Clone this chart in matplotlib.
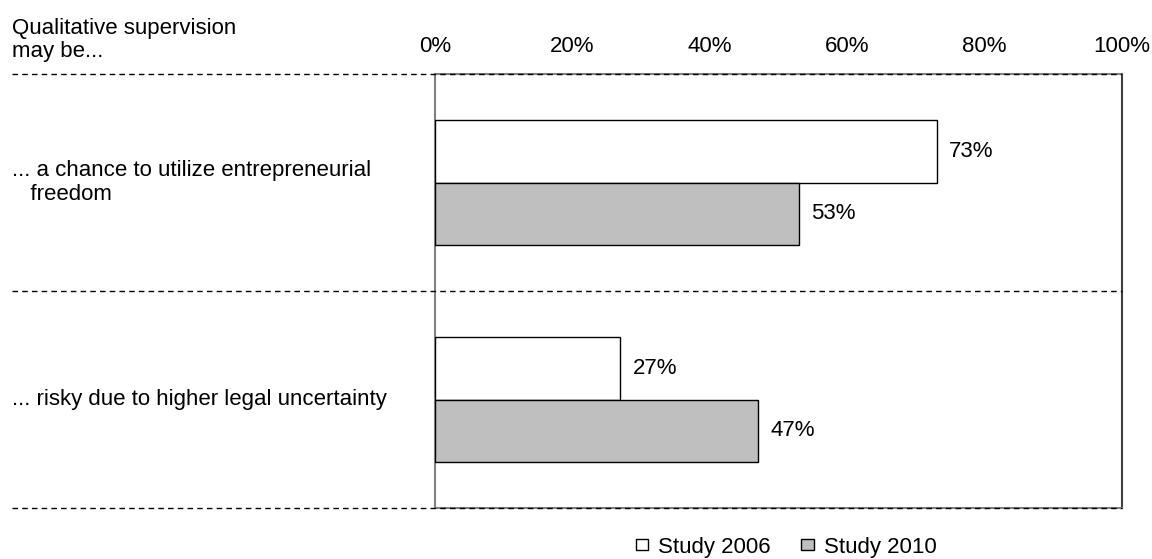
import numpy as np
import matplotlib.pyplot as plt
from matplotlib.lines import Line2D
from matplotlib.patches import Patch

plt.rcParams['font.family'] = ['Liberation Sans', 'DejaVu Sans']

# Survey shares per statement
categories = ['... a chance to utilize entrepreneurial\n   freedom',
              '... risky due to higher legal uncertainty']
study_2006 = [73, 27]
study_2010 = [53, 47]
ticks = [0, 20, 40, 60, 80, 100]

FS = 16

fig = plt.figure(figsize=(11.52, 5.59), dpi=100)
ax = fig.add_axes([0.3776, 0.0912, 0.5964, 0.7764])

centers = np.arange(len(categories)) + 0.5
h = 0.286
ax.barh(centers - h / 2, study_2006, height=h, color='white',
        edgecolor='black', linewidth=1, zorder=3)
ax.barh(centers + h / 2, study_2010, height=h, color='#BFBFBF',
        edgecolor='black', linewidth=1, zorder=3)

for y, v in zip(centers - h / 2, study_2006):
    ax.text(v + 1.8, y, f'{v}%', va='center', ha='left', fontsize=FS)
for y, v in zip(centers + h / 2, study_2010):
    ax.text(v + 1.8, y, f'{v}%', va='center', ha='left', fontsize=FS)

ax.set_xlim(0, 100)
ax.set_ylim(2, 0)
ax.xaxis.tick_top()
ax.set_xticks(ticks)
ax.set_xticklabels([f'{t}%' for t in ticks], fontsize=FS)
ax.tick_params(axis='x', length=0, pad=12)
ax.set_yticks([])

for side in ['left', 'top', 'right', 'bottom']:
    ax.spines[side].set_color('#808080')
    ax.spines[side].set_linewidth(1.5)
ax.spines['right'].set_color('#404040')

# dashed separators running across the label column
for y in [0, 1, 2]:
    ax.add_line(Line2D([-0.616, 1.0], [1 - y / 2, 1 - y / 2],
                       transform=ax.transAxes, color='black',
                       linestyle=(0, (4, 3)), linewidth=1,
                       clip_on=False, zorder=4))

for c, label in zip(centers, categories):
    ax.text(-0.616, c, label, transform=ax.get_yaxis_transform(),
            ha='left', va='center', fontsize=FS, linespacing=1.2)

fig.text(12 / 1152, 1 - 40 / 559, 'Qualitative supervision\nmay be...',
         ha='left', va='center', fontsize=FS, linespacing=1.1)

handles = [Patch(facecolor='white', edgecolor='black', linewidth=1),
           Patch(facecolor='#BFBFBF', edgecolor='black', linewidth=1)]
fig.legend(handles, ['Study 2006', 'Study 2010'], loc='center',
           bbox_to_anchor=(786 / 1152, 1 - 547 / 559), ncol=2,
           frameon=False, fontsize=FS, handlelength=0.55, handleheight=0.4,
           handletextpad=0.45, columnspacing=1.4, borderpad=0)

fig.savefig('out.png', dpi=100)
